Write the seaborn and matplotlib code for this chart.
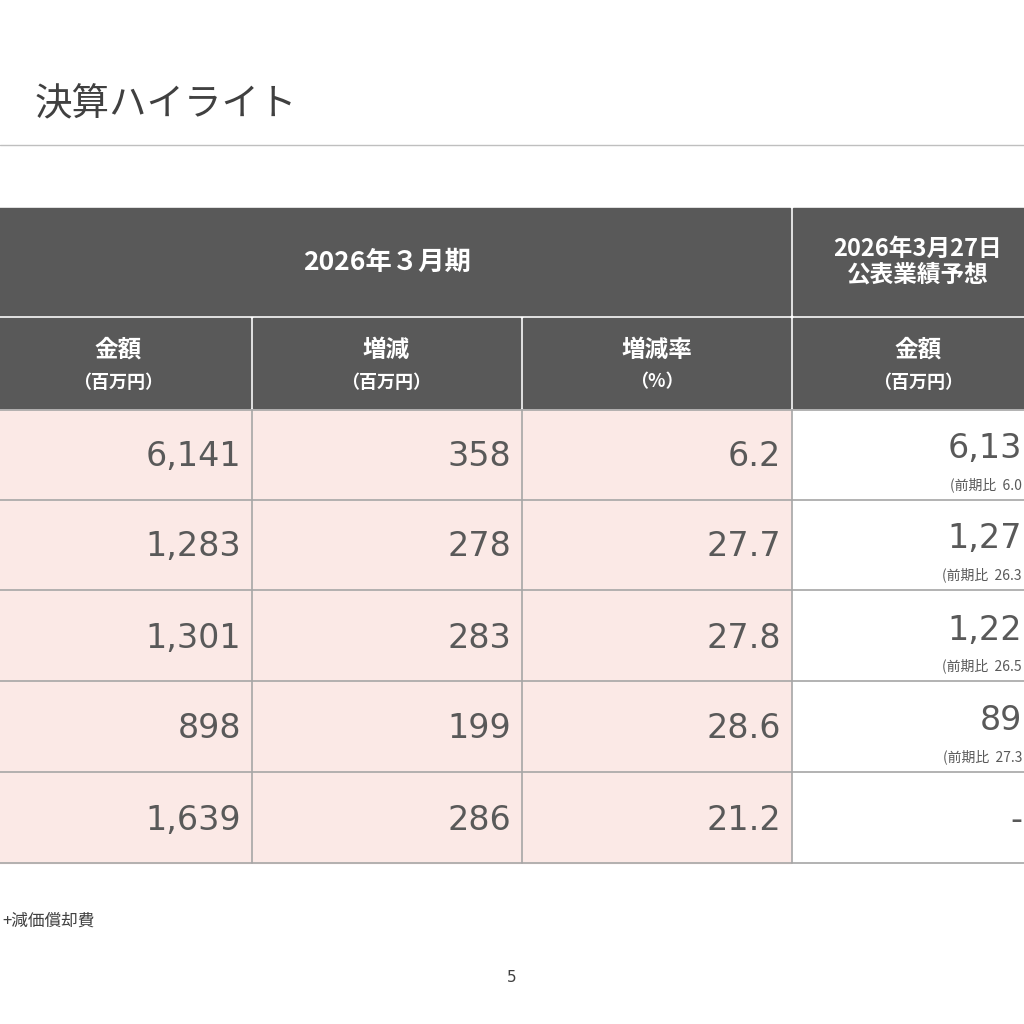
import matplotlib.pyplot as plt
import seaborn as sns
from matplotlib.patches import Rectangle

sns.set_theme(style="white")
plt.rcParams['font.family'] = ['DejaVu Sans', 'Noto Sans CJK JP']

# データ（右端の列は参照画像で見えている部分のみ）
kingaku = ["6,141", "1,283", "1,301", "898", "1,639"]
zougen = ["358", "278", "283", "199", "286"]
zougen_ritsu = ["6.2", "27.7", "27.8", "28.6", "21.2"]
yosou = ["6,13", "1,27", "1,22", "89", "-"]
yosou_hi = ["(前期比  6.0", "(前期比  26.3", "(前期比  26.5", "(前期比  27.3", None]
sub_headers = [("金額", "（百万円）"), ("増減", "（百万円）"), ("増減率", "（%）"), ("金額", "（百万円）")]

dark = "#595959"
pink = "#FBE9E6"
textc = "#595959"
jp = ['Noto Sans CJK JP', 'DejaVu Sans']

fig = plt.figure(figsize=(10.24, 10.24), dpi=100)
ax = fig.add_axes([0, 0, 1, 1])
ax.set_xlim(0, 1024)
ax.set_ylim(1024, 0)
ax.axis("off")

ax.text(35, 105, "決算ハイライト", fontsize=27, color="#404040", family=jp, va="center")
ax.plot([0, 1024], [145, 145], color="#BFBFBF", lw=1)

cols = [(-10, 251), (252, 521), (522, 791), (792, 1100)]

# ヘッダー
ax.add_patch(Rectangle((-10, 208), 800, 107, color=dark))
ax.add_patch(Rectangle((793, 208), 300, 107, color=dark))
ax.text(387, 262, "2026年３月期", fontsize=19, weight="bold", color="white", ha="center", va="center", family=jp)
ax.text(918, 262, "2026年3月27日\n公表業績予想", fontsize=17, weight="bold", color="white",
        ha="center", va="center", family=jp, linespacing=1.1)
for i, (x0, x1) in enumerate(cols):
    ax.add_patch(Rectangle((x0 + 1, 318), x1 - x0 - 2, 90, color=dark))
    cx = (x0 + x1) / 2 if i < 3 else 918
    if i == 0:
        cx = 118
    ax.text(cx, 350, sub_headers[i][0], fontsize=17, weight="bold", color="white", ha="center", va="center", family=jp)
    ax.text(cx, 382, sub_headers[i][1], fontsize=13, weight="bold", color="white", ha="center", va="center", family=jp)

# データ行
row_tops = [410, 500, 591, 682, 773]
row_h = 90
for r, top in enumerate(row_tops):
    for i, (x0, x1) in enumerate(cols):
        fc = pink if i < 3 else "white"
        ax.add_patch(Rectangle((x0, top), x1 - x0, row_h, color=fc))
    ax.plot([0, 1024], [top + row_h, top + row_h], color="#A6A6A6", lw=1.2)
    mid = top + row_h / 2
    for i, vals in enumerate([kingaku, zougen, zougen_ritsu]):
        ax.text(cols[i][1] - 10, mid + 2, vals[r], fontsize=24, color=textc, ha="right", va="center")
    if yosou_hi[r] is None:
        ax.text(1022, mid + 2, yosou[r], fontsize=24, color=textc, ha="right", va="center")
    else:
        ax.text(1022, mid - 6, yosou[r], fontsize=24, color=textc, ha="right", va="center")
        ax.text(1022, mid + 30, yosou_hi[r], fontsize=10, color=textc, ha="right", va="center", family=jp)
for x in [251.5, 521.5, 791.5]:
    ax.plot([x, x], [410, 863], color="#A6A6A6", lw=1.2)
ax.plot([0, 1024], [410, 410], color="#A6A6A6", lw=1.2)

ax.text(2, 921, "+減価償却費", fontsize=12, color="#404040", family=jp, va="center")
ax.text(512, 977, "5", fontsize=11, color="#404040", ha="center", va="center")

fig.savefig("out.png", dpi=100)
